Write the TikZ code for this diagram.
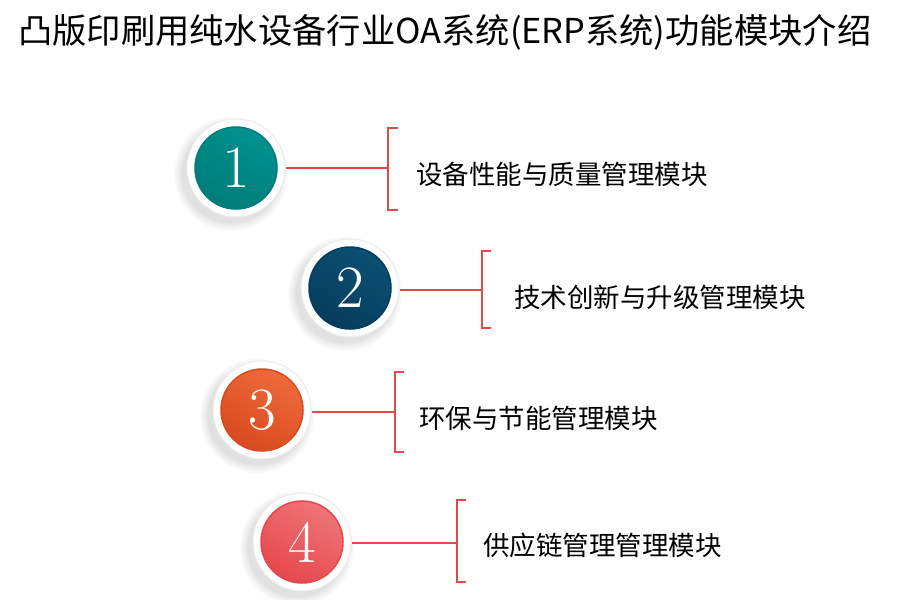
\documentclass[tikz,border=0pt]{standalone}
\usepackage{fontspec}
\newfontfamily\cjk{Noto Sans CJK SC}
\usetikzlibrary{positioning,calc}

\definecolor{tealball}{HTML}{00928E}
\definecolor{tealdark}{HTML}{007C79}
\definecolor{navyball}{HTML}{0B4F72}
\definecolor{navydark}{HTML}{063D5C}
\definecolor{orangeball}{HTML}{EE6A3A}
\definecolor{orangedark}{HTML}{D84A1F}
\definecolor{pinkball}{HTML}{EE7477}
\definecolor{pinkdark}{HTML}{E5484C}
\definecolor{linkred}{HTML}{E24A4A}

\begin{document}
\begin{tikzpicture}[x=1pt,y=-1pt]
\tikzset{
  halo/.style={circle, fill=black, opacity=0.025, minimum size=#1, inner sep=0pt},
  ring/.style={circle, minimum size=98pt, inner sep=0pt, fill=white, draw=black!8, line width=1pt},
  ball/.style 2 args={circle, minimum size=82pt, inner sep=0pt, top color=#1, bottom color=#2,
    shading angle=-30, draw=#2, line width=1.5pt, text=white, font=\fontsize{60}{60}\selectfont},
  link/.style={draw=linkred, line width=1.4pt},
  bracketline/.style={draw=linkred, line width=1.4pt},
  itemtext/.style={anchor=west, font=\cjk\fontsize{26.5}{26.5}\selectfont, inner sep=0pt}
}
\useasboundingbox (0,0) rectangle (900,600);
\fill[white] (0,0) rectangle (900,600);

% title
\node[anchor=west, inner sep=0pt, font=\cjk\fontsize{34.3}{34.3}\selectfont] (title) at (18,32)
  {凸版印刷用纯水设备行业OA系统(ERP系统)功能模块介绍};

% item 1
\foreach \s in {114,110,106,102,99} \node[halo=\s pt] at (231,174) {};
\node[ring] (ring1) at (236,168) {};
\node[ball={tealball}{tealdark}] (num1) at (236,168) {1};
\coordinate (br1) at (388,168);
\draw[link] (ring1.east) -- (br1);
\draw[bracketline] (398,128) -- (388,128) -- (388,210) -- (398,210);
\node[itemtext] (lbl1) at (416,174) {设备性能与质量管理模块};

% item 2
\foreach \s in {114,110,106,102,99} \node[halo=\s pt] at (345,294) {};
\node[ring] (ring2) at (350,288) {};
\node[ball={navyball}{navydark}] (num2) at (350,288) {2};
\coordinate (br2) at (482,290);
\draw[link] (ring2.east |- br2) -- (br2);
\draw[bracketline] (491,251) -- (482,251) -- (482,328) -- (491,328);
\node[itemtext] (lbl2) at (514,297) {技术创新与升级管理模块};

% item 3
\foreach \s in {114,110,106,102,99} \node[halo=\s pt] at (257,416) {};
\node[ring] (ring3) at (262,410) {};
\node[ball={orangeball}{orangedark}] (num3) at (262,410) {3};
\coordinate (br3) at (395,412);
\draw[link] (ring3.east |- br3) -- (br3);
\draw[bracketline] (404,372) -- (395,372) -- (395,452) -- (404,452);
\node[itemtext] (lbl3) at (419,418) {环保与节能管理模块};

% item 4
\foreach \s in {114,110,106,102,99} \node[halo=\s pt] at (297,548) {};
\node[ring] (ring4) at (302,542) {};
\node[ball={pinkball}{pinkdark}] (num4) at (302,542) {4};
\coordinate (br4) at (457,543);
\draw[link] (ring4.east |- br4) -- (br4);
\draw[bracketline] (466,500) -- (457,500) -- (457,582) -- (466,582);
\node[itemtext] (lbl4) at (483,545) {供应链管理管理模块};
\end{tikzpicture}
\end{document}
